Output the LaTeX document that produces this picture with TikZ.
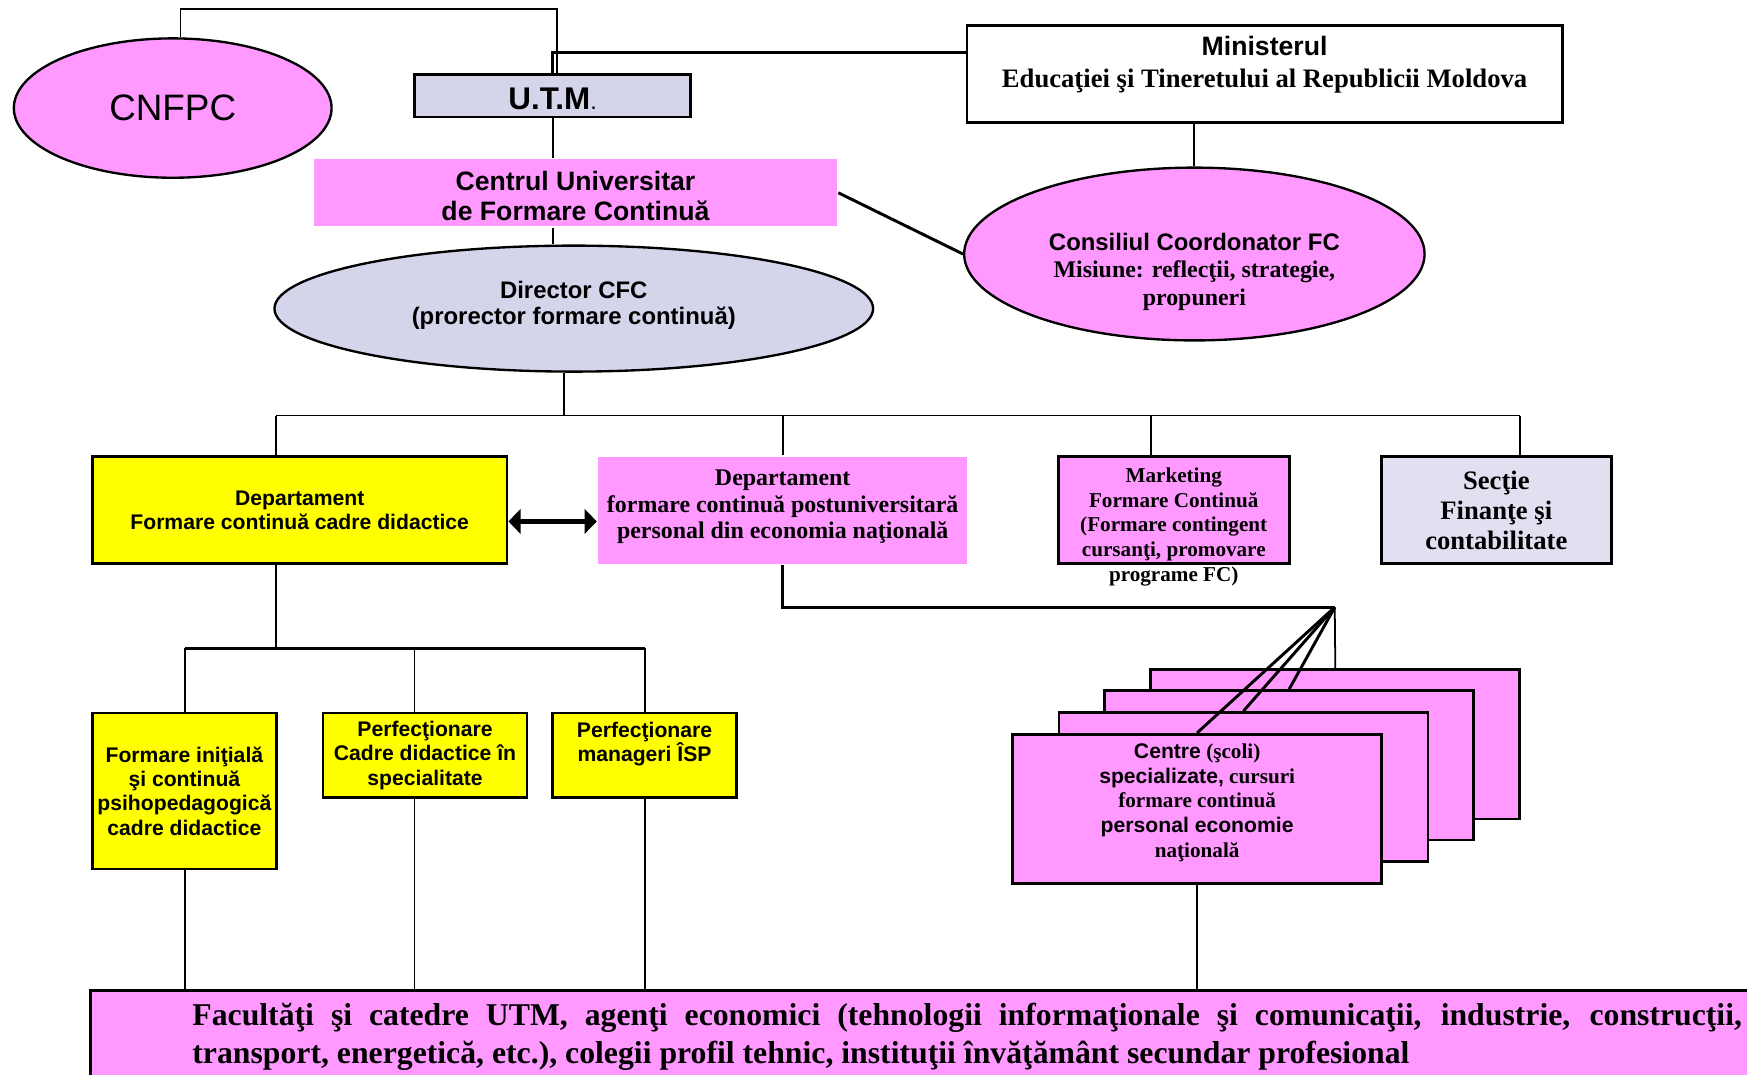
\documentclass[tikz,border=0pt]{standalone}
\usepackage{fontspec}
\setmainfont{Liberation Serif}
\setsansfont{Liberation Sans}
\usetikzlibrary{shapes.geometric,arrows.meta}
\definecolor{roz}{RGB}{255,153,255}
\definecolor{galben}{RGB}{255,255,0}
\definecolor{lila}{RGB}{212,212,234}
\definecolor{lilaa}{RGB}{224,224,240}
\newcommand{\fsz}[2]{\fontsize{#1}{#2}\selectfont}

\begin{document}
\begin{tikzpicture}
	[	x=0.01cm,y=-0.01cm,
		box/.style={rectangle,draw=black,line width=0.7pt,inner sep=0pt,align=center},
		oval/.style={ellipse,draw=black,line width=0.6pt,inner sep=0pt,align=center},
		plain/.style={draw=none,fill=none,inner sep=0pt,align=center},
		link/.style={line width=0.45pt},
		blink/.style={line width=0.75pt},
		dbl/.style={{Triangle[length=0.11cm,width=0.22cm]}-{Triangle[length=0.11cm,width=0.22cm]},line width=1.1pt}
	]
	\useasboundingbox (0,0) rectangle (1568,964);

	\node[oval,fill=roz,minimum width=2.85cm,minimum height=1.25cm,font=\sffamily\fsz{9.4}{11}] (cnfpc) at (155,97) {CNFPC};
	\node[box,fill=lila,minimum width=2.48cm,minimum height=0.38cm] (utm) at (496,86) {};
	\node[plain,font=\sffamily\bfseries\fsz{8}{9}] (utmtext) at (496,89) {U.T.M{\mdseries\fsz{6}{7}.}};
	\node[box,draw=none,fill=roz,minimum width=4.69cm,minimum height=0.6cm] (cent) at (516.5,173) {};
	\node[plain,font=\sffamily\bfseries\fsz{6.8}{7.7}] (centtext) at (516.5,176) {Centrul Universitar\\de Formare Continuă};
	\node[box,fill=white,minimum width=5.34cm,minimum height=0.87cm] (min) at (1135,66.5) {};
	\node[plain,font=\bfseries\fsz{6.8}{8}] (mintext) at (1135,58) {{\sffamily Ministerul}\\Educaţiei şi Tineretului al Republicii Moldova};
	\node[oval,fill=lila,minimum width=5.37cm,minimum height=1.13cm] (dir) at (515,277) {};
	\node[plain,font=\sffamily\bfseries\fsz{6.1}{6.8}] (dirtext) at (515,274) {Director CFC\\(prorector formare continuă)};
	\node[oval,fill=roz,minimum width=4.13cm,minimum height=1.55cm] (cons) at (1072,228) {};
	\node[plain,font=\bfseries\fsz{6.1}{7}] (constext) at (1072,244) {{\sffamily Consiliul Coordonator FC}\\Misiune: reflecţii, strategie,\\propuneri};

	\node[box,fill=galben,minimum width=3.72cm,minimum height=0.96cm,font=\sffamily\bfseries\fsz{5.4}{6.3}] (d1) at (269,458) {Departament\\Formare continuă cadre didactice};
	\node[box,draw=none,fill=roz,minimum width=3.31cm,minimum height=0.96cm] (d2) at (702.5,458) {};
	\node[plain,font=\bfseries\fsz{6.1}{6.8}] (d2text) at (702.5,455) {Departament\\formare continuă postuniversitară\\personal din economia naţională};
	\node[box,fill=roz,minimum width=2.07cm,minimum height=0.96cm] (mkt) at (1053.5,458) {};
	\node[plain,font=\bfseries\fsz{5.4}{6.3}] (mkttext) at (1053.5,473) {Marketing\\Formare Continuă\\(Formare contingent\\cursanţi, promovare\\programe FC)};
	\node[box,fill=lilaa,minimum width=2.06cm,minimum height=0.96cm,font=\bfseries\fsz{6.8}{7.7}] (sec) at (1343,458) {Secţie\\Finanţe şi\\contabilitate};

	\node[box,fill=galben,minimum width=1.65cm,minimum height=1.4cm,font=\sffamily\bfseries\fsz{5.4}{6.2}] (fa) at (165.5,710) {Formare iniţială\\şi continuă\\psihopedagogică\\cadre didactice};
	\node[box,fill=galben,minimum width=1.83cm,minimum height=0.76cm,font=\sffamily\bfseries\fsz{5.4}{6.2}] (fb) at (381.5,678) {Perfecţionare\\Cadre didactice în\\specialitate};
	\node[box,fill=galben,minimum width=1.65cm,minimum height=0.76cm] (fc) at (578.5,678) {};
	\node[plain,font=\sffamily\bfseries\fsz{5.4}{6.2}] (fctext) at (578.5,668) {Perfecţionare\\manageri ÎSP};

	\node[box,fill=roz,minimum width=3.31cm,minimum height=1.34cm] (c4) at (1198.5,668) {};
	\node[box,fill=roz,minimum width=3.31cm,minimum height=1.34cm] (c3) at (1157,687) {};
	\node[box,fill=roz,minimum width=3.31cm,minimum height=1.34cm] (c2) at (1116,706.5) {};
	\node[box,fill=roz,minimum width=3.31cm,minimum height=1.34cm] (c1) at (1074.5,726) {};
	\node[plain,font=\bfseries\fsz{5.4}{6.3}] (c1text) at (1074.5,720.5) {{\sffamily Centre} (şcoli)\\{\sffamily specializate,} cursuri\\formare continuă\\{\sffamily personal economie}\\naţională};

	\begin{scope}
		\clip (0,0) rectangle (1568,964);
		\node[box,fill=roz,anchor=north west,minimum width=16cm,minimum height=1.2cm] (bar) at (80,888) {};
	\end{scope}
	\node[plain,anchor=north west,text width=13.9cm,align=justify,font=\bfseries\fsz{8.1}{9.7}] (fac) at (172,900) {Facultăţi şi catedre UTM, agenţi economici (tehnologii informaţionale şi comunicaţii, industrie, construcţii,\linebreak transport, energetică, etc.), colegii profil tehnic, instituţii învăţământ secundar profesional};

	\coordinate (b0) at (506,373);
	\coordinate (b1) at (248,373);
	\coordinate (b2) at (1033,373);
	\coordinate (b3) at (1364,373);
	\coordinate (s0) at (248,582);
	\coordinate (s1) at (166,582);
	\coordinate (s2) at (372,582);
	\coordinate (s3) at (579,582);
	\coordinate (vf) at (1198,545);

	\draw[link] ([xshift=0.07cm]cnfpc.north) -- ++(0,-25) -| ([xshift=0.04cm]utm.north);
	\draw[blink] (utm.north) |- ([yshift=0.195cm]min.west);
	\draw[link] (utm.south) -- (utm.south |- cent.north);
	\draw[link] (utm.south |- cent.south) -- (utm.south |- dir.north);
	\draw[blink] (cent.east) -- (cons.west);
	\draw[link] (cons.north |- min.south) -- (cons.north);

	\draw[link] (dir.south -| b0) -- (b0);
	\draw[link] (b1) -- (b3);
	\draw[link] (b1) -- (b1 |- d1.north);
	\draw[link] (d2.north |- b1) -- (d2.north);
	\draw[link] (b2) -- (b2 |- mkt.north);
	\draw[link] (b3) -- (b3 |- sec.north);
	\draw[dbl] ([yshift=-0.1cm]d1.east) -- ([yshift=-0.1cm]d2.west);

	\draw[link] (s0 |- d1.south) -- (s0);
	\draw[blink] (s1) -- (s3);
	\draw[link] (s1) -- (s1 |- fa.north);
	\draw[link] (s2) -- (s2 |- fb.north);
	\draw[link] (s3) -- (s3 |- fc.north);
	\draw[link] (s1 |- fa.south) -- (s1 |- bar.north);
	\draw[link] (s2 |- fb.south) -- (s2 |- bar.north);
	\draw[link] (s3 |- fc.south) -- (s3 |- bar.north);

	\draw[blink] (d2.south) |- (vf);
	\draw[blink] (vf) -- (c1.north);
	\draw[blink] (vf) -- (c2.north);
	\draw[blink] (vf) -- (c3.north);
	\draw[link] (vf) -- (c4.north);
	\draw[link] (c1.south) -- (c1.south |- bar.north);
\end{tikzpicture}
\end{document}
